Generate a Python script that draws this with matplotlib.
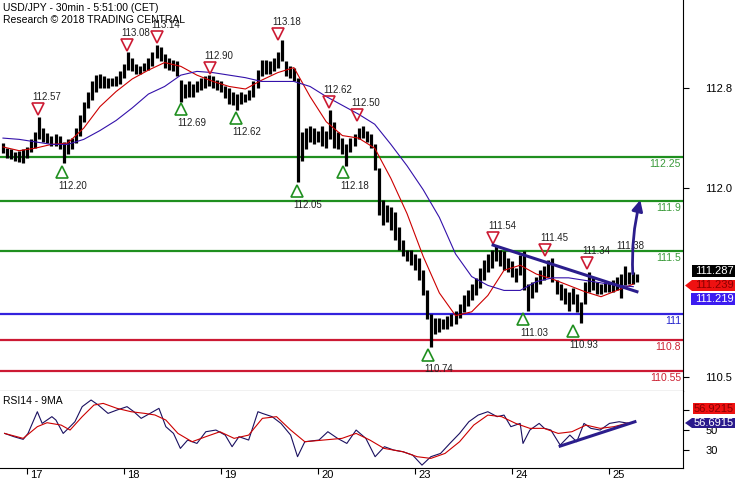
import matplotlib
matplotlib.use('Agg')
import matplotlib.pyplot as plt
from matplotlib.patches import Polygon

plt.rcParams['font.family'] = ['Liberation Sans', 'DejaVu Sans']

# hourly bars (x = bar index, 24 per day)
hi = [112.36, 112.32, 112.31, 112.29, 112.30, 112.31, 112.33, 112.39, 112.45, 112.57,
      112.48, 112.44, 112.42, 112.43, 112.42, 112.37, 112.39, 112.40, 112.48, 112.58,
      112.69, 112.77, 112.85, 112.90, 112.91, 112.89, 112.88, 112.88, 112.89, 112.93,
      112.99, 113.08, 113.04, 112.99, 112.97, 113.00, 113.04, 113.08, 113.14, 113.12,
      113.07, 113.04, 113.02, 113.01, 112.86, 112.83, 112.85, 112.83, 112.85, 112.88,
      112.89, 112.90, 112.89, 112.86, 112.85, 112.81, 112.80, 112.77, 112.75, 112.77,
      112.75, 112.78, 112.85, 112.94, 113.02, 113.02, 113.01, 113.04, 113.08, 113.18,
      113.01, 112.97, 112.96, 112.88, 112.45, 112.48, 112.50, 112.48, 112.46, 112.50,
      112.46, 112.62, 112.53, 112.45, 112.40, 112.35, 112.40, 112.43, 112.48, 112.50,
      112.46, 112.43, 112.35, 112.16, 111.91, 111.87, 111.85, 111.81, 111.69, 111.59,
      111.51, 111.51, 111.48, 111.45, 111.35, 111.19, 111.00, 110.97, 110.97, 110.96,
      110.99, 111.00, 111.03, 111.08, 111.15, 111.19, 111.24, 111.29, 111.37, 111.43,
      111.48, 111.51, 111.54, 111.51, 111.50, 111.45, 111.42, 111.37, 111.47, 111.50,
      111.24, 111.26, 111.30, 111.35, 111.38, 111.43, 111.45, 111.27, 111.24, 111.21,
      111.18, 111.21, 111.16, 111.10, 111.26, 111.34, 111.30, 111.26, 111.24, 111.26,
      111.26, 111.27, 111.30, 111.32, 111.38, 111.34, 111.34, 111.32]
lo = [112.28, 112.24, 112.23, 112.22, 112.21, 112.20, 112.24, 112.29, 112.32, 112.39,
      112.37, 112.36, 112.34, 112.34, 112.31, 112.20, 112.27, 112.31, 112.36, 112.42,
      112.53, 112.64, 112.70, 112.77, 112.80, 112.80, 112.80, 112.81, 112.81, 112.83,
      112.88, 112.94, 112.93, 112.91, 112.91, 112.93, 112.94, 112.97, 113.04, 113.01,
      112.96, 112.94, 112.93, 112.89, 112.69, 112.72, 112.73, 112.73, 112.77, 112.78,
      112.80, 112.81, 112.80, 112.78, 112.77, 112.72, 112.67, 112.66, 112.62, 112.67,
      112.69, 112.70, 112.73, 112.80, 112.89, 112.91, 112.91, 112.93, 112.96, 113.01,
      112.89, 112.88, 112.85, 112.05, 112.22, 112.31, 112.37, 112.35, 112.37, 112.34,
      112.32, 112.39, 112.32, 112.31, 112.27, 112.18, 112.29, 112.34, 112.39, 112.40,
      112.37, 112.32, 112.15, 111.79, 111.71, 111.73, 111.67, 111.59, 111.51, 111.46,
      111.42, 111.39, 111.35, 111.27, 111.15, 110.96, 110.74, 110.84, 110.86, 110.88,
      110.88, 110.91, 110.92, 110.97, 111.02, 111.07, 111.11, 111.15, 111.21, 111.27,
      111.34, 111.37, 111.42, 111.38, 111.35, 111.34, 111.30, 111.26, 111.31, 111.19,
      111.03, 111.13, 111.18, 111.24, 111.27, 111.30, 111.26, 111.16, 111.11, 111.08,
      111.03, 111.08, 111.02, 110.93, 111.08, 111.18, 111.19, 111.16, 111.16, 111.18,
      111.18, 111.18, 111.19, 111.13, 111.23, 111.24, 111.24, 111.26]

# moving averages, one value every 4 bars
ma_step = 4
red_ma = [112.33, 112.30, 112.32, 112.35, 112.36, 112.48, 112.65, 112.77, 112.87, 112.94,
          113.00, 112.97, 112.90, 112.85, 112.81, 112.79, 112.86, 112.92, 112.96, 112.73,
          112.53, 112.42, 112.40, 112.32, 112.08, 111.80, 111.46, 111.17, 110.99, 111.02,
          111.15, 111.35, 111.39, 111.32, 111.28, 111.23, 111.18, 111.14, 111.19, 111.24]
blue_ma = [112.40, 112.39, 112.37, 112.35, 112.35, 112.39, 112.46, 112.54, 112.64, 112.75,
           112.81, 112.90, 112.93, 112.92, 112.90, 112.88, 112.85, 112.85, 112.85, 112.81,
           112.73, 112.66, 112.59, 112.51, 112.35, 112.18, 111.99, 111.77, 111.48, 111.30,
           111.23, 111.19, 111.19, 111.26, 111.29, 111.29, 111.27, 111.25, 111.23, 111.22]

# support / resistance levels
levels = [112.25, 111.9, 111.5, 111.0, 110.8, 110.55]
level_txt = ['112.25', '111.9', '111.5', '111', '110.8', '110.55']
level_col = ['#1f8f1f', '#1f8f1f', '#1f8f1f', '#3322dd', '#cc1a33', '#cc1a33']
level_tcol = ['#3a9a3a', '#3a9a3a', '#3a9a3a', '#2222cc', '#cc2233', '#cc2233']

# swing highs / lows
top_x = [8.7, 30.7, 38.1, 51.2, 68.1, 80.7, 87.6, 121.3, 134.2, 144.6]
top_y = [112.63, 113.14, 113.20, 112.96, 113.23, 112.69, 112.58, 111.61, 111.51, 111.41]
top_txt = ['112.57', '113.08', '113.14', '112.90', '113.18', '112.62', '112.50', '111.54', '111.45', '111.34']
bot_x = [14.6, 44.1, 57.7, 72.8, 84.2, 105.2, 128.7, 141.1]
bot_y = [112.13, 112.63, 112.56, 111.98, 112.13, 110.68, 110.96, 110.87]
bot_txt = ['112.20', '112.69', '112.62', '112.05', '112.18', '110.74', '111.03', '110.93']

trend_x = [121.3, 156.9]
trend_y = [111.55, 111.18]
arrow_from = (155.9, 111.30)
arrow_to = (157.9, 111.93)

# RSI
rsi_x = [0.4, 2.7, 5, 6.2, 8.5, 9.7, 10.9, 12.1, 13.1, 14.9, 16.6, 17.8, 19.6, 21.8, 23.6, 26, 28.2,
         30.7, 32.4, 34.2, 36.4, 38.6, 40.3, 42.2, 43.9, 45.7, 48, 50.2, 52.7, 55, 56.7, 58.4, 60.8,
         63.1, 64.2, 66.6, 68.8, 71.2, 72.9, 74.7, 78.2, 80.4, 82.8, 85.1, 87.4, 89.8, 92.1, 94.4,
         96.7, 99, 101.4, 103.7, 105.9, 108.3, 110.6, 113, 115.3, 117.6, 120, 122.3, 124, 125.7, 128,
         128.7, 130.4, 132.7, 134, 135.6, 137.9, 140.3, 142, 143.8, 145.5, 147.8, 150.1, 152.5, 154.7]
rsi = [46.4, 43.1, 40.4, 46.4, 68.3, 56.5, 59.9, 63.3, 59.9, 46.4, 53.2, 58.2, 73.4, 80.1, 75.0, 66.6,
       70.0, 73.4, 68.3, 61.6, 66.6, 71.7, 53.2, 46.4, 31.3, 39.7, 36.3, 48.1, 49.8, 44.7, 33.0, 43.1,
       39.7, 68.3, 66.6, 63.3, 56.5, 44.7, 22.9, 38.0, 39.7, 48.1, 41.4, 36.3, 49.8, 41.4, 22.9, 33.0,
       29.6, 27.9, 24.5, 14.4, 22.9, 26.2, 36.3, 46.4, 58.2, 64.9, 68.3, 63.3, 64.9, 53.2, 56.5, 36.3,
       49.8, 56.5, 51.5, 49.8, 34.6, 44.7, 38.0, 56.5, 51.5, 49.8, 56.5, 58.2, 56.7]
rsi_ma_x = [0.4, 5, 8.5, 10.9, 14.4, 16.6, 19.6, 22.5, 24.8, 28.2, 31.7, 35.1, 37.6, 40.3, 43.3, 46.8,
            50.2, 53.7, 57.2, 60.8, 64.2, 67.7, 71.2, 74.7, 79.3, 83.9, 87.4, 90.8, 94.3, 99, 102.5,
            105.9, 109.4, 113, 116.5, 120, 123.4, 126.9, 130.4, 133.9, 137.4, 140.8, 144.3, 147.8,
            151.2, 154.7]
rsi_ma = [46.4, 41.4, 53.2, 57.2, 54.8, 49.8, 63.3, 75.0, 76.7, 71.7, 68.3, 66.6, 65.0, 59.9, 46.4,
          38.0, 43.1, 48.1, 41.4, 44.7, 61.6, 63.3, 49.8, 38.0, 39.7, 41.4, 46.4, 39.7, 31.3, 27.9,
          22.9, 21.2, 26.2, 38.0, 54.8, 64.9, 63.3, 56.5, 51.5, 51.5, 46.4, 48.1, 54.8, 51.5, 53.2, 56.9]
rsi_trend_x = [137.9, 156.4]
rsi_trend_y = [33.6, 58.2]

day_pos = [6, 30, 54, 78, 102, 126, 150]
day_lbl = ['17', '18', '19', '20', '23', '24', '25']

W, H = 735, 480
navy = '#2b1d8c'


def fx(x):
    return x / W


def fy(y):
    return 1 - y / H


fig = plt.figure(figsize=(7.35, 4.8), dpi=100)
ax = fig.add_axes([0, fy(391), fx(683), 391 / H])
rx = fig.add_axes([0, fy(467.7), fx(683), (467.7 - 391) / H])

# ---- price panel
for lv, c, t, tc in zip(levels, level_col, level_txt, level_tcol):
    ax.axhline(lv, color=c, lw=1.6, zorder=1)
    ax.annotate(t, xy=(1, lv), xycoords=('axes fraction', 'data'), xytext=(-2, -7),
                textcoords='offset pixels', ha='right', va='center', fontsize=7.5, color=tc)

ax.vlines(range(len(hi)), lo, hi, color='black', lw=2.3, zorder=2)
ma_x = [i * ma_step for i in range(len(red_ma))]
ax.plot(ma_x, red_ma, color='#cc0000', lw=0.8, zorder=3)
ax.plot(ma_x, blue_ma, color='#3311aa', lw=0.8, zorder=3)

ax.plot(top_x, top_y, 'v', mfc='none', mec='#cc1a33', ms=8, mew=1.2, zorder=4)
for x, y, t in zip(top_x, top_y, top_txt):
    ax.annotate(t, (x, y), xytext=(9, 12), textcoords='offset pixels', ha='center', va='center',
                fontsize=7, color='#222222')
ax.plot(bot_x, bot_y, '^', mfc='none', mec='#1f8f1f', ms=8, mew=1.2, zorder=4)
for x, y, t in zip(bot_x, bot_y, bot_txt):
    ax.annotate(t, (x, y), xytext=(11, -14), textcoords='offset pixels', ha='center', va='center',
                fontsize=7, color='#222222')
ax.text(155.2, 111.54, '111.38', fontsize=7, color='#222222', ha='center', va='center')

ax.plot(trend_x, trend_y, color=navy, lw=2.2, zorder=5)
ax.annotate('', xy=arrow_to, xytext=arrow_from,
            arrowprops=dict(arrowstyle='-|>', color=navy, lw=2.0, mutation_scale=16,
                            connectionstyle='arc3,rad=-0.08'), zorder=6)

ax.set_xlim(-0.74, 168.3)
ax.set_ylim(110.391, 113.497)
ax.yaxis.tick_right()
ax.set_yticks([110.5, 112.0, 112.8])
ax.set_yticklabels(['110.5', '112.0', '112.8'])
ax.tick_params(axis='y', length=4, pad=12, labelsize=8)
ax.set_xticks([])
for s in ['top', 'left']:
    ax.spines[s].set_visible(False)

# ---- RSI panel
rx.plot(rsi_x, rsi, color='#1a1060', lw=0.8)
rx.plot(rsi_ma_x, rsi_ma, color='#cc0000', lw=0.8)
rx.plot(rsi_trend_x, rsi_trend_y, color=navy, lw=2.2)
rx.set_xlim(-0.74, 168.3)
rx.set_ylim(11.8, 89.2)
rx.yaxis.tick_right()
rx.set_yticks([30, 50, 70])
rx.tick_params(axis='y', length=4, pad=12, labelsize=8)
rx.set_xticks(day_pos)
rx.set_xticklabels([])
rx.tick_params(axis='x', length=4)
for s in ['top', 'left']:
    rx.spines[s].set_visible(False)
rx.text(0.004, 0.87, 'RSI14 - 9MA', transform=rx.transAxes, fontsize=7.5, va='center')
for p, t in zip(day_pos, day_lbl):
    rx.annotate(t, xy=(p, 0), xycoords=('data', 'axes fraction'), xytext=(3, -7),
                textcoords='offset pixels', ha='left', va='center', fontsize=8)

# ---- header
fig.text(fx(3), fy(8), 'USD/JPY - 30min - 5:51:00 (CET)', fontsize=7.5, va='center')
fig.text(fx(3), fy(20), 'Research \u00a9 2018 TRADING CENTRAL', fontsize=7.5, va='center')


# ---- value tags on the right
def tag(y0, y1, x0, fc, txt, tc, arrow=False):
    if arrow:
        pts = [(685, (y0 + y1) / 2), (x0, y0), (735, y0), (735, y1), (x0, y1)]
    else:
        pts = [(x0, y0), (735, y0), (735, y1), (x0, y1)]
    fig.patches.append(Polygon([(fx(a), fy(b)) for a, b in pts], closed=True,
                               transform=fig.transFigure, fc=fc, ec='none', zorder=10))
    fig.text(fx(714), fy((y0 + y1) / 2), txt, color=tc, fontsize=8, ha='center', va='center', zorder=11)


tag(265, 277, 692, '#000000', '111.287', 'white')
tag(280, 291, 692, '#ee1111', '111.239', '#8a0000', arrow=True)
tag(293, 305, 691, '#3c1cf0', '111.219', 'white')
tag(403, 414, 693, '#ee1111', '56.9215', '#8a0000')
tag(418, 428, 692, '#2a1a8c', '56.6915', 'white', arrow=True)

fig.savefig('out.png', dpi=100)
